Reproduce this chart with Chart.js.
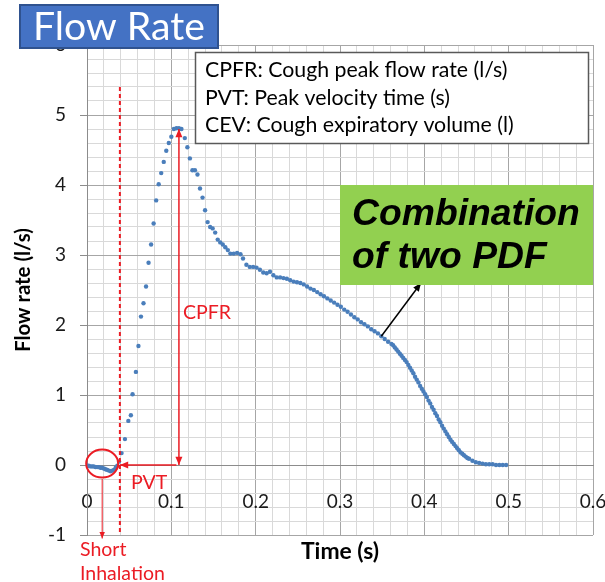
<!DOCTYPE html>
<html>
<head>
<meta charset="utf-8">
<script src="https://cdn.jsdelivr.net/npm/chart.js@4.4.1/dist/chart.umd.min.js"></script>
<style>
  html, body { margin: 0; padding: 0; background: #fff; }
  #wrap { width: 605px; height: 582px; position: relative; }
</style>
</head>
<body>
<div id="wrap"><canvas id="flowChart"></canvas></div>
<script>
// cough flow samples (time in s, flow in l/s)
const timeS = [
  0.000, 0.002, 0.004, 0.006, 0.008, 0.010, 0.012, 0.014, 0.016, 0.018,
  0.020, 0.022, 0.024, 0.026, 0.028, 0.030, 0.032, 0.034, 0.036, 0.038,
  0.041, 0.045, 0.049, 0.052, 0.054, 0.058, 0.061, 0.064, 0.067, 0.070,
  0.073, 0.076, 0.079, 0.082, 0.085, 0.088, 0.091, 0.094, 0.097, 0.100,
  0.103, 0.106, 0.109, 0.112, 0.116, 0.119, 0.122, 0.125, 0.128, 0.131,
  0.134, 0.137, 0.140, 0.143, 0.146, 0.149, 0.152, 0.155, 0.158, 0.161,
  0.164, 0.167, 0.170, 0.174, 0.178, 0.182, 0.185, 0.189, 0.193, 0.197,
  0.201, 0.205, 0.209, 0.213, 0.217, 0.221, 0.225, 0.229, 0.233, 0.237,
  0.241, 0.245, 0.249, 0.253, 0.257, 0.261, 0.265, 0.269, 0.273, 0.277,
  0.281, 0.285, 0.289, 0.293, 0.297, 0.301, 0.305, 0.309, 0.313, 0.317,
  0.321, 0.325, 0.329, 0.333, 0.337, 0.341, 0.345, 0.349, 0.353, 0.357,
  0.361, 0.363, 0.365, 0.367, 0.369, 0.371, 0.373, 0.375, 0.377, 0.379,
  0.381, 0.383, 0.385, 0.387, 0.389, 0.391, 0.393, 0.395, 0.397, 0.399,
  0.401, 0.403, 0.405, 0.407, 0.409, 0.411, 0.413, 0.415, 0.417, 0.419,
  0.421, 0.423, 0.425, 0.427, 0.429, 0.431, 0.433, 0.435, 0.437, 0.439,
  0.441, 0.443, 0.445, 0.447, 0.449, 0.451, 0.453, 0.457, 0.461, 0.465,
  0.469, 0.473, 0.477, 0.481, 0.485, 0.489, 0.493, 0.497
];
const flowRate = [
  -0.01, -0.01, -0.02, -0.02, -0.02, -0.03, -0.03, -0.03, -0.04, -0.04,
  -0.05, -0.06, -0.07, -0.08, -0.09, -0.08, -0.07, -0.04, -0.01, 0.05,
  0.17, 0.37, 0.63, 0.71, 1.01, 1.33, 1.70, 2.12, 2.31, 2.55,
  2.89, 3.15, 3.45, 3.78, 4.01, 4.17, 4.33, 4.49, 4.60, 4.69,
  4.80, 4.81, 4.81, 4.80, 4.67, 4.54, 4.38, 4.21, 4.21, 4.15,
  3.95, 3.82, 3.64, 3.47, 3.40, 3.38, 3.32, 3.22, 3.18, 3.15,
  3.11, 3.07, 3.02, 3.02, 3.03, 3.01, 2.95, 2.86, 2.83, 2.83,
  2.82, 2.79, 2.75, 2.74, 2.76, 2.71, 2.68, 2.68, 2.67, 2.66,
  2.64, 2.62, 2.61, 2.60, 2.58, 2.55, 2.52, 2.50, 2.47, 2.44,
  2.41, 2.38, 2.35, 2.32, 2.29, 2.26, 2.22, 2.19, 2.15, 2.11,
  2.08, 2.04, 2.01, 1.98, 1.94, 1.91, 1.88, 1.84, 1.80, 1.76,
  1.73, 1.71, 1.68, 1.65, 1.62, 1.59, 1.56, 1.53, 1.50, 1.47,
  1.43, 1.39, 1.35, 1.31, 1.26, 1.22, 1.18, 1.13, 1.09, 1.05,
  1.01, 0.97, 0.92, 0.88, 0.83, 0.79, 0.74, 0.70, 0.65, 0.61,
  0.56, 0.52, 0.48, 0.44, 0.40, 0.36, 0.33, 0.30, 0.27, 0.24,
  0.21, 0.18, 0.16, 0.14, 0.12, 0.10, 0.09, 0.06, 0.04, 0.03,
  0.02, 0.01, 0.01, 0.01, 0.00, 0.00, 0.00, 0.00
];

// axis ranges, steps and labels
const xRange = [0, 0.6];
const yRange = [-1, 6];
const xMinorStep = 0.02;
const yMinorStep = 0.2;
const xTitle = 'Time (s)';
const yTitle = 'Flow rate (l/s)';

// annotation texts
const titleText = 'Flow Rate';
const legendLines = [
  'CPFR: Cough peak flow rate (l/s)',
  'PVT: Peak velocity time (s)',
  'CEV: Cough expiratory volume (l)'
];
const calloutLines = ['Combination', 'of two PDF'];
const inhaleLines = ['Short', 'Inhalation'];

const blue = '#4a7ebb';
const red = 'rgb(235,28,36)';
const majorGrid = '#a6a6a6';
const minorGrid = '#d9d9d9';

Chart.defaults.font.family = 'Lato';

// pick a font size so a text gets the width it has in the picture
var measure = document.createElement('canvas').getContext('2d');
function fitSize(text, style, family, width) {
  measure.font = style + ' 100px ' + family;
  return Math.round(100 * width / measure.measureText(text).width * 10) / 10;
}
const yTitleSize = fitSize(yTitle, 'bold', 'Lato', 124);
const xTitleSize = fitSize(xTitle, 'bold', 'Lato', 78);
const legendSize = fitSize(legendLines[0], 'normal', 'Lato', 302);
const titleSize = fitSize(titleText, 'normal', 'Lato', 172);
const calloutSize = fitSize(calloutLines[0], 'italic bold', '"Liberation Sans"', 228);

// bottom band under the plot: 47px, x title centred near y=552
const xTitleLine = xTitleSize * 1.2;
const xTitlePadTop = 17 - xTitleLine / 2;
const xTitlePadBottom = 47 - xTitlePadTop - xTitleLine;

function isWhole(v, step) {
  const r = v / step;
  return Math.abs(r - Math.round(r)) < 1e-6;
}

var points = timeS.map(function(t, i) { return { x: t, y: flowRate[i] }; });

function arrowHead(c, x1, y1, x2, y2, size) {
  const a = Math.atan2(y2 - y1, x2 - x1);
  c.beginPath();
  c.moveTo(x2, y2);
  c.lineTo(x2 - size * Math.cos(a - 0.4), y2 - size * Math.sin(a - 0.4));
  c.lineTo(x2 - size * Math.cos(a + 0.4), y2 - size * Math.sin(a + 0.4));
  c.closePath();
  c.fill();
}

function arrow(c, x1, y1, x2, y2, headEnd, headStart, size) {
  c.beginPath();
  c.moveTo(x1, y1);
  c.lineTo(x2, y2);
  c.stroke();
  if (headEnd) arrowHead(c, x1, y1, x2, y2, size);
  if (headStart) arrowHead(c, x2, y2, x1, y1, size);
}

const annotations = {
  id: 'annotations',
  afterDraw: function(chart) {
    const c = chart.ctx;
    const xs = chart.scales.x, ys = chart.scales.y;
    c.save();

    // red markings
    c.strokeStyle = red;
    c.fillStyle = red;
    c.lineWidth = 2;
    c.setLineDash([4, 3]);
    c.beginPath();
    c.moveTo(xs.getPixelForValue(0.039), ys.getPixelForValue(5.4));
    c.lineTo(xs.getPixelForValue(0.039), ys.getPixelForValue(-1));
    c.stroke();
    c.setLineDash([]);

    c.lineWidth = 1.5;
    arrow(c, xs.getPixelForValue(0.109), ys.getPixelForValue(0), xs.getPixelForValue(0.109), ys.getPixelForValue(4.8), true, true, 9);
    arrow(c, xs.getPixelForValue(0.039), ys.getPixelForValue(0), xs.getPixelForValue(0.106), ys.getPixelForValue(0), false, true, 9);

    c.lineWidth = 2;
    c.beginPath();
    c.ellipse(xs.getPixelForValue(0.018), ys.getPixelForValue(0.02), 16, 14, 0, 0, Math.PI * 2);
    c.stroke();
    c.lineWidth = 1;
    arrow(c, xs.getPixelForValue(0.018), ys.getPixelForValue(-0.2), xs.getPixelForValue(0.018), ys.getPixelForValue(-1.05), true, false, 7);

    c.font = '19.5px Lato';
    c.textBaseline = 'alphabetic';
    c.textAlign = 'left';
    c.fillText('CPFR', 183, 319);
    c.fillText('PVT', 131, 489);
    c.fillText(inhaleLines[0], 80, 556);
    c.fillText(inhaleLines[1], 80, 580);

    // black pointer to the curve
    c.strokeStyle = '#000';
    c.fillStyle = '#000';
    c.lineWidth = 1.5;
    arrow(c, xs.getPixelForValue(0.349), ys.getPixelForValue(1.84), 421, 283, true, false, 9);

    // legend box
    c.fillStyle = '#fff';
    c.fillRect(195, 52, 393, 92);
    c.strokeStyle = '#595959';
    c.lineWidth = 1.5;
    c.strokeRect(195.5, 52.5, 393, 91);
    c.fillStyle = '#000';
    c.font = legendSize + 'px Lato';
    legendLines.forEach(function(line, i) {
      c.fillText(line, 205, 77 + i * 27.5);
    });

    // green callout
    c.fillStyle = '#92d050';
    c.fillRect(340, 185, 253, 100);
    c.fillStyle = '#000';
    c.font = 'italic bold ' + calloutSize + 'px "Liberation Sans"';
    c.fillText(calloutLines[0], 352, 225);
    c.fillText(calloutLines[1], 352, 268);

    // title box
    c.fillStyle = '#4472c4';
    c.fillRect(20, 5, 198, 43);
    c.strokeStyle = '#2f528f';
    c.lineWidth = 2;
    c.strokeRect(20, 5, 198, 43);
    c.fillStyle = '#fff';
    c.font = titleSize + 'px Lato';
    c.textAlign = 'center';
    c.fillText(titleText, 119, 40);

    c.restore();
  }
};

const ctx = document.getElementById('flowChart').getContext('2d');
new Chart(ctx, {
  type: 'scatter',
  data: {
    datasets: [{
      label: 'Flow rate',
      data: points,
      backgroundColor: blue,
      borderColor: blue,
      borderWidth: 0,
      pointRadius: 2.2,
      showLine: false
    }]
  },
  options: {
    responsive: true,
    maintainAspectRatio: false,
    animation: false,
    layout: { padding: { left: 0, right: 12, top: 45, bottom: 0 } },
    plugins: {
      legend: { display: false },
      tooltip: { enabled: false },
      title: {
        display: true,
        position: 'bottom',
        fullSize: false,
        text: xTitle,
        color: '#000',
        font: { size: xTitleSize, weight: 'bold', lineHeight: 1.2 },
        padding: { top: xTitlePadTop, bottom: xTitlePadBottom }
      }
    },
    scales: {
      x: {
        type: 'linear',
        position: { y: 0 },
        min: xRange[0],
        max: xRange[1],
        // the big label gap should not squeeze the plot sideways
        afterFit: function(scale) { scale.paddingLeft = 0; scale.paddingRight = 0; },
        border: { color: '#8c8c8c' },
        grid: {
          drawTicks: false,
          color: function(c) { return isWhole(c.tick.value, 0.1) ? majorGrid : minorGrid; }
        },
        ticks: {
          stepSize: xMinorStep,
          autoSkip: false,
          maxRotation: 0,
          padding: 25,
          color: '#1a1a1a',
          font: { size: 19 },
          callback: function(v) { return isWhole(v, 0.1) ? String(Math.round(v * 10) / 10) : ''; }
        }
      },
      y: {
        type: 'linear',
        position: 'left',
        min: yRange[0],
        max: yRange[1],
        afterFit: function(scale) { scale.width = 87; },
        border: { color: '#8c8c8c' },
        grid: {
          tickLength: 7,
          color: function(c) { return isWhole(c.tick.value, 1) ? majorGrid : minorGrid; },
          tickColor: function(c) { return isWhole(c.tick.value, 1) ? '#8c8c8c' : 'rgba(0,0,0,0)'; }
        },
        title: {
          display: true,
          text: yTitle,
          color: '#000',
          font: { size: yTitleSize, weight: 'bold' },
          padding: { top: 11, bottom: 0 }
        },
        ticks: {
          stepSize: yMinorStep,
          autoSkip: false,
          padding: 14,
          color: '#1a1a1a',
          font: { size: 19 },
          callback: function(v) { return isWhole(v, 1) ? String(Math.round(v)) : ''; }
        }
      }
    }
  },
  plugins: [annotations]
});
</script>
</body>
</html>
